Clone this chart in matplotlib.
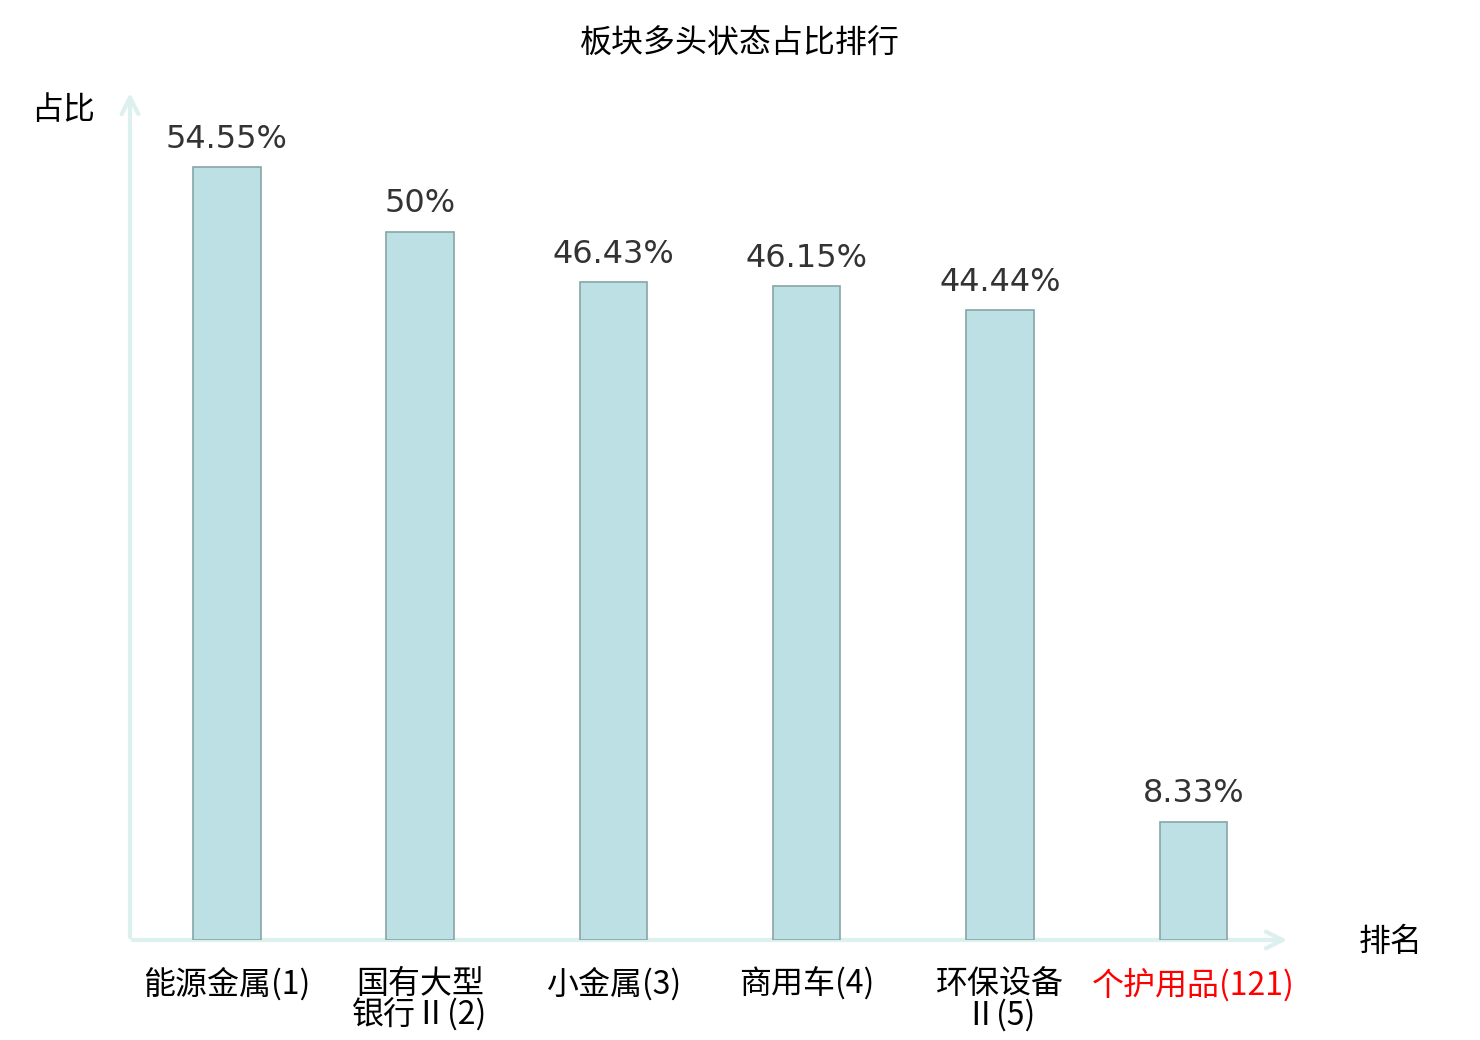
import matplotlib.pyplot as plt

plt.rcParams['font.family'] = ['Noto Sans CJK SC', 'DejaVu Sans']

# data
categories = ['能源金属(1)', '国有大型\n银行Ⅱ(2)', '小金属(3)', '商用车(4)', '环保设备\nⅡ(5)', '个护用品(121)']
values = [54.55, 50, 46.43, 46.15, 44.44, 8.33]
value_labels = ['54.55%', '50%', '46.43%', '46.15%', '44.44%', '8.33%']
label_colors = ['black', 'black', 'black', 'black', 'black', 'red']

fig = plt.figure(figsize=(14.8, 10.4), dpi=100)
ax = fig.add_axes([130 / 1480, 100 / 1040, 1160 / 1480, 850 / 1040])

x = list(range(len(categories)))
ax.bar(x, values, width=0.35, color='#bce0e3', edgecolor='#86a6a8', linewidth=1.2, zorder=2)

for xi, v, lab in zip(x, values, value_labels):
    ax.annotate(lab, (xi, v), xytext=(0, 9), textcoords='offset points',
                ha='center', va='bottom', fontsize=23, color='#333333',
                family='DejaVu Sans')

ax.set_xlim(-0.5, 5.5)
ax.set_ylim(0, 60)

for s in ax.spines.values():
    s.set_visible(False)
ax.set_yticks([])
ax.set_xticks(x)
ax.set_xticklabels(categories, fontsize=23, linespacing=0.95)
for t, c in zip(ax.get_xticklabels(), label_colors):
    t.set_color(c)
ax.tick_params(axis='x', length=0, pad=20)

# axis arrows
axis_col = '#dcf0ee'
ax.annotate('', xy=(1, 0), xytext=(0, 0), xycoords='axes fraction',
            arrowprops=dict(arrowstyle='->', color=axis_col, lw=3, mutation_scale=30),
            annotation_clip=False, zorder=1)
ax.annotate('', xy=(0, 1), xytext=(0, 0), xycoords='axes fraction',
            arrowprops=dict(arrowstyle='->', color=axis_col, lw=3, mutation_scale=30),
            annotation_clip=False, zorder=1)

fig.text(63 / 1480, 1 - 110 / 1040, '占比', fontsize=23, ha='center', va='center')
fig.text(1391 / 1480, 1 - 942 / 1040, '排名', fontsize=23, ha='center', va='center')
fig.text(0.5, 1 - 44 / 1040, '板块多头状态占比排行', fontsize=23, ha='center', va='center')

fig.savefig('out.png', dpi=100)
